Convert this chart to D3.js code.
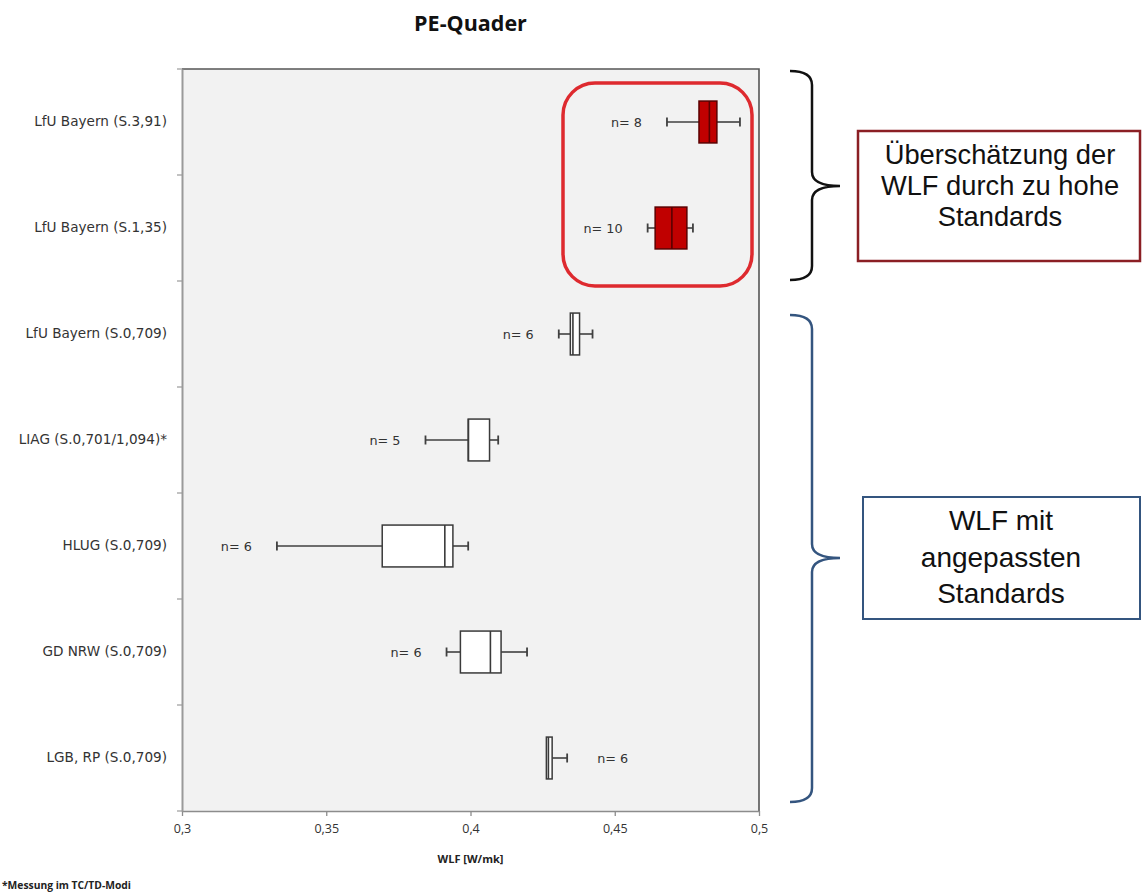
<!DOCTYPE html>
<html>
<head>
<meta charset="utf-8">
<script src="https://cdn.jsdelivr.net/npm/d3@7"></script>
<style>
  body { margin: 0; background: #fff; }
  svg { display: block; }
</style>
</head>
<body>
<div id="chart"></div>
<script>
// chart values

let categories = [
  "LfU Bayern (S.3,91)",
  "LfU Bayern (S.1,35)",
  "LfU Bayern (S.0,709)",
  "LIAG (S.0,701/1,094)*",
  "HLUG (S.0,709)",
  "GD NRW (S.0,709)",
  "LGB, RP (S.0,709)"
];

let minValues    = [0.4681, 0.4614, 0.4306, 0.3844, 0.3329, 0.3917, 0.4263];
let q1Values     = [0.4792, 0.4640, 0.4346, 0.3992, 0.3694, 0.3965, 0.4263];
let medianValues = [0.4828, 0.4698, 0.4355, 0.3993, 0.3911, 0.4069, 0.4270];
let q3Values     = [0.4854, 0.4750, 0.4378, 0.4066, 0.3939, 0.4106, 0.4283];
let maxValues    = [0.4934, 0.4771, 0.4423, 0.4096, 0.3992, 0.4196, 0.4335];
let sampleSizes  = [8, 10, 6, 5, 6, 6, 6];
let labelSide    = ["left", "left", "left", "left", "left", "left", "right"];
let overestimated = [true, true, false, false, false, false, false];

let tickValues = [0.3, 0.35, 0.4, 0.45, 0.5];
let tickLabels = ["0,3", "0,35", "0,4", "0,45", "0,5"];

let note1 = ["Überschätzung der", "WLF durch zu hohe", "Standards"];
let note2 = ["WLF mit", "angepassten", "Standards"];

let data = categories.map((c, i) => ({
  name: c,
  min: minValues[i],
  q1: q1Values[i],
  median: medianValues[i],
  q3: q3Values[i],
  max: maxValues[i],
  n: sampleSizes[i],
  side: labelSide[i],
  red: overestimated[i]
}));

// sizes
let svgWidth = 1142;
let svgHeight = 896;

let plot = { left: 182, right: 759, top: 69, bottom: 811 };

let svg = d3.select("#chart")
  .append("svg")
  .attr("width", svgWidth)
  .attr("height", svgHeight);

let x = d3.scaleLinear()
  .domain([0.3, 0.5])
  .range([plot.left, plot.right]);

let y = d3.scaleBand()
  .domain(categories)
  .range([plot.top, plot.bottom]);

// plot area background
svg.append("rect")
  .attr("x", plot.left)
  .attr("y", plot.top)
  .attr("width", plot.right - plot.left)
  .attr("height", plot.bottom - plot.top)
  .attr("fill", "#f2f2f2");

// top and right border
svg.append("path")
  .attr("d", `M${plot.left},${plot.top}H${plot.right}V${plot.bottom}`)
  .attr("fill", "none")
  .attr("stroke", "#555")
  .attr("stroke-width", 1.6);

// x axis
let xAxis = d3.axisBottom(x)
  .tickValues(tickValues)
  .tickFormat((d, i) => tickLabels[i])
  .tickSize(5)
  .tickPadding(8)
  .tickSizeOuter(0);

let gx = svg.append("g")
  .attr("transform", `translate(0,${plot.bottom})`)
  .call(xAxis);
gx.select(".domain").attr("stroke", "#8c8c8c").attr("stroke-width", 1.5);
gx.selectAll(".tick line").attr("stroke", "#8c8c8c").attr("stroke-width", 1.3);
gx.selectAll(".tick text")
  .attr("fill", "#333")
  .style("font-family", "'Open Sans', sans-serif")
  .style("font-size", "12.5px");

// y axis labels
let yAxis = d3.axisLeft(y)
  .tickSize(0)
  .tickPadding(15)
  .tickSizeOuter(0);

let gy = svg.append("g")
  .attr("transform", `translate(${plot.left},0)`)
  .call(yAxis);
gy.select(".domain").attr("stroke", "#9a9a9a").attr("stroke-width", 2);
gy.selectAll(".tick text")
  .attr("fill", "#333")
  .style("font-family", "'DejaVu Sans', sans-serif")
  .style("font-size", "13.6px");

// boundary ticks between categories
let boundaries = categories.map(c => y(c)).concat([plot.bottom]);
svg.append("g").selectAll("line")
  .data(boundaries)
  .enter()
  .append("line")
  .attr("x1", plot.left - 5)
  .attr("x2", plot.left)
  .attr("y1", d => d)
  .attr("y2", d => d)
  .attr("stroke", "#9a9a9a")
  .attr("stroke-width", 1.2);

// boxes
let boxH = y.bandwidth() * 0.395;
let capH = 9;

let boxes = svg.append("g").selectAll("g")
  .data(data)
  .enter()
  .append("g")
  .attr("transform", d => `translate(0,${y(d.name) + y.bandwidth() / 2})`);

// whiskers
boxes.append("line")
  .attr("x1", d => x(d.min))
  .attr("x2", d => x(d.q1))
  .attr("stroke", "#404040")
  .attr("stroke-width", 1.6);
boxes.append("line")
  .attr("x1", d => x(d.q3))
  .attr("x2", d => x(d.max))
  .attr("stroke", "#404040")
  .attr("stroke-width", 1.6);

// whisker caps
boxes.filter(d => d.min < d.q1).append("line")
  .attr("x1", d => x(d.min))
  .attr("x2", d => x(d.min))
  .attr("y1", -capH / 2)
  .attr("y2", capH / 2)
  .attr("stroke", "#404040")
  .attr("stroke-width", 1.8);
boxes.filter(d => d.max > d.q3).append("line")
  .attr("x1", d => x(d.max))
  .attr("x2", d => x(d.max))
  .attr("y1", -capH / 2)
  .attr("y2", capH / 2)
  .attr("stroke", "#404040")
  .attr("stroke-width", 1.8);

// box body
boxes.append("rect")
  .attr("x", d => x(d.q1))
  .attr("y", -boxH / 2)
  .attr("width", d => x(d.q3) - x(d.q1))
  .attr("height", boxH)
  .attr("fill", d => d.red ? "#c00000" : "#ffffff")
  .attr("stroke", d => d.red ? "#5a0000" : "#3a3a3a")
  .attr("stroke-width", 1.5);

// median
boxes.append("line")
  .attr("x1", d => x(d.median))
  .attr("x2", d => x(d.median))
  .attr("y1", -boxH / 2)
  .attr("y2", boxH / 2)
  .attr("stroke", d => d.red ? "#5a0000" : "#3a3a3a")
  .attr("stroke-width", 1.6);

// n labels
boxes.append("text")
  .attr("x", d => d.side === "left" ? x(d.min) - 25 : x(d.max) + 30)
  .attr("y", 4.5)
  .attr("text-anchor", d => d.side === "left" ? "end" : "start")
  .attr("fill", "#333")
  .style("font-family", "'DejaVu Sans', sans-serif")
  .style("font-size", "12.8px")
  .text(d => "n= " + d.n);

// red highlight round rect
svg.append("rect")
  .attr("x", 563)
  .attr("y", 83)
  .attr("width", 189)
  .attr("height", 203)
  .attr("rx", 32)
  .attr("ry", 32)
  .attr("fill", "none")
  .attr("stroke", "#de2a2f")
  .attr("stroke-width", 3.5);

// title
svg.append("text")
  .attr("x", (plot.left + plot.right) / 2)
  .attr("y", 31)
  .attr("text-anchor", "middle")
  .attr("fill", "#111")
  .style("font-family", "'Open Sans', sans-serif")
  .style("font-weight", "bold")
  .style("font-size", "21.5px")
  .text("PE-Quader");

// axis title
svg.append("text")
  .attr("x", (plot.left + plot.right) / 2)
  .attr("y", 863)
  .attr("text-anchor", "middle")
  .attr("fill", "#222")
  .style("font-family", "'Open Sans', sans-serif")
  .style("font-weight", "bold")
  .style("font-size", "11px")
  .text("WLF [W/mk]");

// footnote
svg.append("text")
  .attr("x", 2)
  .attr("y", 889)
  .attr("fill", "#222")
  .style("font-family", "'Open Sans', sans-serif")
  .style("font-weight", "bold")
  .style("font-size", "10.3px")
  .text("*Messung im TC/TD-Modi");

// curly braces
function bracePath(xEnd, xMid, xTip, yTop, yTipPos, yBot) {
  let r = 14;
  return `M${xEnd},${yTop} Q${xMid},${yTop} ${xMid},${yTop + r}` +
    ` L${xMid},${yTipPos - r} Q${xMid},${yTipPos} ${xTip},${yTipPos}` +
    ` Q${xMid},${yTipPos} ${xMid},${yTipPos + r}` +
    ` L${xMid},${yBot - r} Q${xMid},${yBot} ${xEnd},${yBot}`;
}

svg.append("path")
  .attr("d", bracePath(790, 812, 840, 71, 186, 280))
  .attr("fill", "none")
  .attr("stroke", "#111")
  .attr("stroke-width", 2.5);

svg.append("path")
  .attr("d", bracePath(790, 812, 840, 315, 558, 802))
  .attr("fill", "none")
  .attr("stroke", "#34557f")
  .attr("stroke-width", 2.5);

// annotation boxes, each note is one text with a line per tspan
function addNote(lines, bx, by, bw, bh, stroke, strokeW, cx, firstY, lineGap, size) {
  svg.append("rect")
    .attr("x", bx)
    .attr("y", by)
    .attr("width", bw)
    .attr("height", bh)
    .attr("fill", "#fff")
    .attr("stroke", stroke)
    .attr("stroke-width", strokeW);

  let t = svg.append("text")
    .attr("x", cx)
    .attr("y", firstY)
    .attr("text-anchor", "middle")
    .attr("fill", "#111")
    .style("font-family", "'Liberation Sans', Arial, sans-serif")
    .style("font-size", size + "px");

  t.selectAll("tspan")
    .data(lines)
    .enter()
    .append("tspan")
    .attr("x", cx)
    .attr("dy", (d, i) => i === 0 ? 0 : lineGap)
    .text(d => d);
}

addNote(note1, 858, 131, 282, 130, "#8b1f24", 2.5, 1000, 164, 31, 27.3);
addNote(note2, 863, 497, 277, 122, "#34557f", 2, 1001, 530, 36.5, 28);
</script>
</body>
</html>
